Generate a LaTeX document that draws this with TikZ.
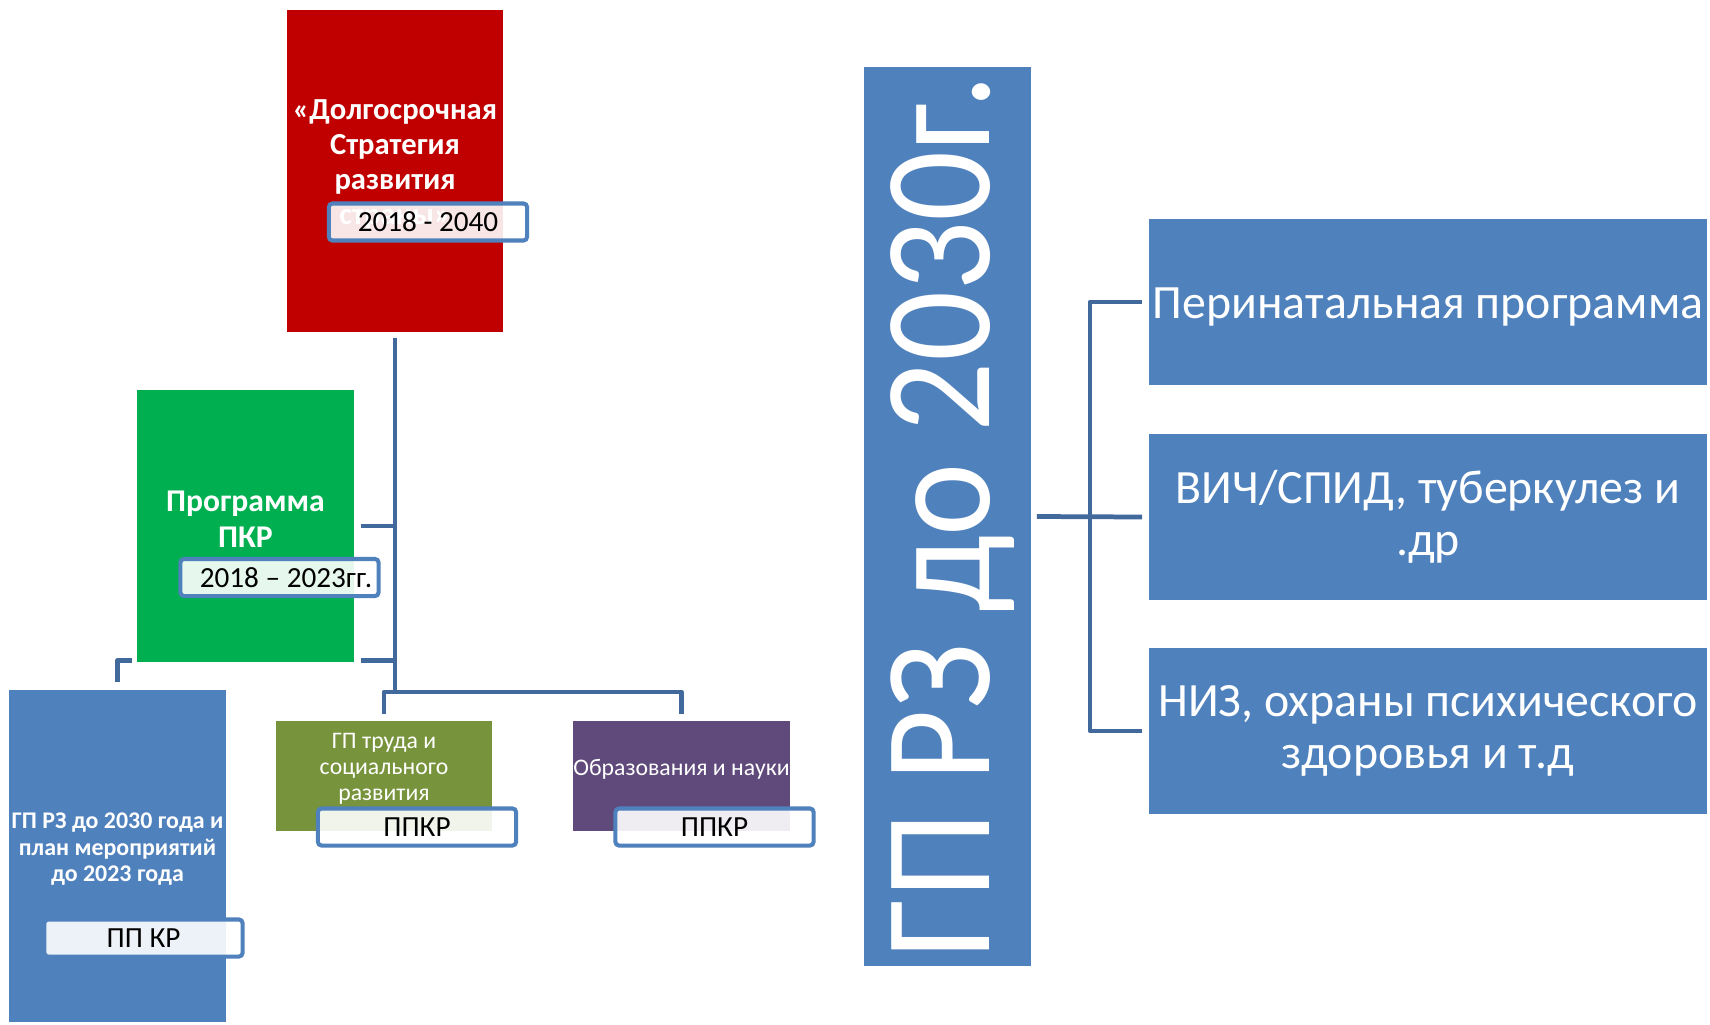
\documentclass[tikz,border=0pt]{standalone}
\usepackage{fontspec}
\setmainfont{Carlito}
\usepackage{tikz}
\usetikzlibrary{positioning}
\definecolor{stratred}{HTML}{C00000}
\definecolor{progreen}{HTML}{00B050}
\definecolor{gpblue}{HTML}{4F81BD}
\definecolor{trudolive}{HTML}{77933C}
\definecolor{obrpurple}{HTML}{604A7B}
\definecolor{linkblue}{HTML}{41699C}

\begin{document}
\begin{tikzpicture}[x=0.01cm, y=-0.01cm,
    block/.style={rectangle, inner sep=0pt, text=white, align=center},
    topic/.style={block, fill=gpblue, minimum width=5.58cm, minimum height=1.66cm,
        font=\fontsize{13.6}{14.8}\selectfont},
    datebox/.style={rectangle, draw=gpblue, line width=1.15pt, rounded corners=1pt,
        fill=white, fill opacity=0.9, text opacity=1, text=black, inner sep=0pt,
        minimum width=1.98cm, minimum height=0.37cm, font=\fontsize{8.3}{9}\selectfont},
    link/.style={draw=linkblue, line width=1.35pt, line join=round}]
    \fill[white] (0,0) rectangle (1710,1024);   % page

    % left tree
    \node[block, fill=stratred, minimum width=2.16cm, minimum height=3.22cm, text depth=5pt,
        font=\bfseries\fontsize{8.7}{10}\selectfont] (strat) at (395,171)
        {«Долгосрочная\\Стратегия\\развития\\страны»};
    \node[block, fill=progreen, minimum width=2.17cm, minimum height=2.72cm, text depth=3.7pt,
        font=\bfseries\fontsize{9}{10.2}\selectfont] (prog) at (245.5,526) {Программа\\ПКР};
    \node[block, fill=gpblue, minimum width=2.17cm, minimum height=3.32cm, text depth=5pt,
        font=\bfseries\fontsize{6.8}{7.6}\selectfont] (gp) at (117.5,856)
        {ГП РЗ до 2030 года и\\план мероприятий\\до 2023 года};
    \node[block, fill=trudolive, minimum width=2.16cm, minimum height=1.10cm, text depth=5pt,
        font=\fontsize{6.75}{7.4}\selectfont] (trud) at (384,776) {ГП труда и\\социального\\развития};
    \node[block, fill=obrpurple, minimum width=2.17cm, minimum height=1.10cm, text depth=5pt,
        font=\fontsize{6.75}{7.4}\selectfont] (obr) at (681.5,776) {Образования и науки};

    \coordinate (split) at (395,692);
    \draw[link] (strat.south) ++(0,5) -- (split);                          % trunk
    \draw[link] (prog.east) ++(6,0) -- (prog.east -| split);               % upper stub
    \draw[link] (prog.south east) ++(6,-2) coordinate (lowstub) -- (lowstub -| split); % lower stub
    \draw[link] (prog.south west) ++(-4,-2) -| ([yshift=0.07cm]gp.north);  % to gp
    \draw[link] ([yshift=0.06cm]trud.north) |- (split) -| ([yshift=0.06cm]obr.north); % bus

    \node[datebox] (stratyears) at (428,222) {2018 - 2040};
    \node[datebox] (progyears) at (279.5,577.5) {\hspace{0.13cm}2018 – 2023гг.};
    \node[datebox] (gpdoc) at (143.5,938) {ПП КР};
    \node[datebox] (truddoc) at (417,827) {ППКР};
    \node[datebox] (obrdoc) at (714.5,827) {ППКР};

    % right tree
    \node[block, fill=gpblue, minimum width=1.67cm, minimum height=8.99cm] (big) at (947.5,516.5) {};
    \node[rotate=90, text=white, inner sep=0pt, font=\fontsize{39.4}{40}\selectfont]
        (bigtitle) at ([xshift=0.05cm]big.center) {\scalebox{1}[1.1]{ГП РЗ до 2030г.}};
    \node[topic, text height=11.3pt] (peri) at (1428,302) {Перинатальная программа};
    \node[topic] (vich) at (1428,517) {ВИЧ/СПИД, туберкулез и\\.др};
    \node[topic] (niz) at (1428,731) {НИЗ, охраны психического\\здоровья и т.д};

    \coordinate (fork) at (1090,517);
    \draw[link] ([xshift=0.05cm]big.east) -- ([xshift=-0.06cm]vich.west);         % main link
    \draw[link] ([xshift=-0.06cm]peri.west) -| (fork) |- ([xshift=-0.06cm]niz.west); % bracket
\end{tikzpicture}
\end{document}
